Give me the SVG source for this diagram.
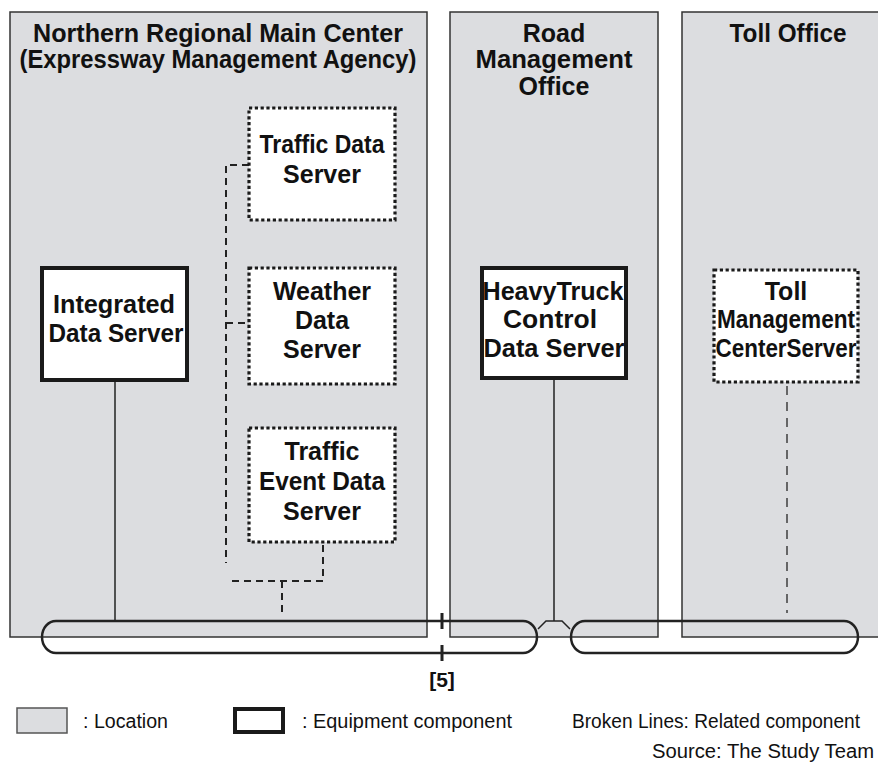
<svg xmlns="http://www.w3.org/2000/svg" width="878" height="767" viewBox="0 0 878 767">
  <style>
    .loc { fill: #dcdde0; stroke: #333; stroke-width: 1.5; }
    .title { font-family: "Liberation Sans", Arial, sans-serif; font-weight: bold; font-size: 25px; fill: #111; text-anchor: middle; }
    .lbl { font-family: "Liberation Sans", Arial, sans-serif; font-weight: bold; font-size: 25px; fill: #111; text-anchor: middle; }
    .equip { fill: #fff; stroke: #1a1a1a; stroke-width: 4; }
    .related { fill: #fff; stroke: #1a1a1a; stroke-width: 3.2; stroke-dasharray: 3.2 2.6; }
    .solid { fill: none; stroke: #222; stroke-width: 1.5; }
    .dash { fill: none; stroke: #222; stroke-width: 2; stroke-dasharray: 7 5; }
    .dash-long { fill: none; stroke: #333; stroke-width: 1.4; stroke-dasharray: 9 7; }
    .bus { fill: none; stroke: #222; stroke-width: 2.5; }
    .legend { font-family: "Liberation Sans", Arial, sans-serif; font-size: 20px; fill: #111; }
  </style>

  <!-- Locations -->
  <g id="loc-northern">
    <rect class="loc" x="10" y="12" width="417" height="625"/>
    <text class="title" x="218" y="42" textLength="370" lengthAdjust="spacingAndGlyphs">Northern Regional Main Center</text>
    <text class="title" x="218" y="68" textLength="397" lengthAdjust="spacingAndGlyphs">(Expressway Management Agency)</text>
  </g>
  <g id="loc-road">
    <rect class="loc" x="450" y="12" width="208" height="625"/>
    <text class="title" x="554" y="42">Road</text>
    <text class="title" x="554" y="68" textLength="157" lengthAdjust="spacingAndGlyphs">Management</text>
    <text class="title" x="554" y="95">Office</text>
  </g>
  <g id="loc-toll">
    <rect class="loc" x="682" y="12" width="210" height="625"/>
    <text class="title" x="788" y="42" textLength="117" lengthAdjust="spacingAndGlyphs">Toll Office</text>
  </g>

  <!-- Communication bus -->
  <g id="network-bus">
    <rect class="bus" x="42" y="621" width="495" height="32" rx="14" ry="16"/>
    <rect class="bus" x="571" y="621" width="287" height="32" rx="14" ry="16"/>
    <path d="M442,613 V629 M442,645 V661" fill="none" stroke="#222" stroke-width="3"/>
    <text x="442" y="687" font-family="'Liberation Sans', Arial, sans-serif" font-weight="bold" font-size="21" fill="#111" text-anchor="middle">[5]</text>
  </g>

  <!-- Connectors -->
  <g id="connectors">
    <path class="solid" d="M115,380 V621"/>
    <path class="solid" d="M554,378 V621 M538,629 L546,621 H562 L570,629"/>
    <path class="dash" d="M249,165 H226 V563"/>
    <path class="dash" d="M226,323 H249"/>
    <path class="dash" d="M232,581 H323 V542"/>
    <path class="dash" d="M282,581 V617"/>
    <path class="dash-long" d="M787,386 V613"/>
  </g>

  <!-- Equipment -->
  <g id="node-integrated">
    <rect class="equip" x="42" y="268" width="145" height="112"/>
    <text class="lbl" x="114" y="313" textLength="122" lengthAdjust="spacingAndGlyphs">Integrated</text>
    <text class="lbl" x="116" y="342" textLength="135" lengthAdjust="spacingAndGlyphs">Data Server</text>
  </g>
  <g id="node-traffic-data">
    <rect class="related" x="249" y="108" width="146" height="112"/>
    <text class="lbl" x="322" y="153" textLength="125" lengthAdjust="spacingAndGlyphs">Traffic Data</text>
    <text class="lbl" x="322" y="183">Server</text>
  </g>
  <g id="node-weather">
    <rect class="related" x="249" y="268" width="146" height="116"/>
    <text class="lbl" x="322" y="300">Weather</text>
    <text class="lbl" x="322" y="329">Data</text>
    <text class="lbl" x="322" y="358">Server</text>
  </g>
  <g id="node-traffic-event">
    <rect class="related" x="249" y="428" width="146" height="114"/>
    <text class="lbl" x="322" y="460">Traffic</text>
    <text class="lbl" x="322" y="490" textLength="126" lengthAdjust="spacingAndGlyphs">Event Data</text>
    <text class="lbl" x="322" y="520">Server</text>
  </g>
  <g id="node-heavy-truck">
    <rect class="equip" x="482" y="268" width="144" height="110"/>
    <text class="lbl" x="553" y="300" textLength="141" lengthAdjust="spacingAndGlyphs">HeavyTruck</text>
    <text class="lbl" x="550" y="328" textLength="94" lengthAdjust="spacingAndGlyphs">Control</text>
    <text class="lbl" x="554" y="357" textLength="141" lengthAdjust="spacingAndGlyphs">Data Server</text>
  </g>
  <g id="node-toll-server">
    <rect class="related" x="714" y="270" width="144" height="112"/>
    <text class="lbl" x="786" y="300">Toll</text>
    <text class="lbl" x="786" y="328" textLength="138" lengthAdjust="spacingAndGlyphs">Management</text>
    <text class="lbl" x="786" y="357" textLength="141" lengthAdjust="spacingAndGlyphs">CenterServer</text>
  </g>

  <!-- Legend -->
  <g id="legend">
    <rect x="17" y="708" width="50" height="25" fill="#dcdde0" stroke="#555" stroke-width="1.5"/>
    <text class="legend" x="83" y="728" textLength="85" lengthAdjust="spacingAndGlyphs">: Location</text>
    <rect x="235" y="709" width="48" height="23" fill="#fff" stroke="#1a1a1a" stroke-width="4"/>
    <text class="legend" x="302" y="728" textLength="210" lengthAdjust="spacingAndGlyphs">: Equipment component</text>
    <text class="legend" x="572" y="728" textLength="288" lengthAdjust="spacingAndGlyphs">Broken Lines: Related component</text>
    <text class="legend" x="652" y="758" textLength="222" lengthAdjust="spacingAndGlyphs">Source: The Study Team</text>
  </g>
</svg>
